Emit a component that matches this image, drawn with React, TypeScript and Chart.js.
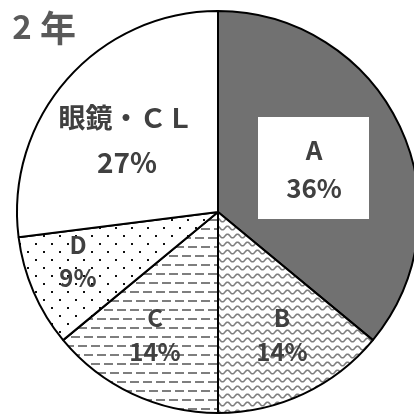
import React, { useEffect, useRef } from "react";
import { Chart, registerables } from "chart.js";

Chart.register(...registerables);

const categories = ["A", "B", "C", "D", "眼鏡・ＣＬ"];
const values = [36, 14, 14, 9, 27];
const percentLabels = ["36%", "14%", "14%", "9%", "27%"];
const title = ["2", "年"];

function makeTile(w: number, h: number, draw: (c: CanvasRenderingContext2D) => void) {
  const cv = document.createElement("canvas");
  cv.width = w;
  cv.height = h;
  const c = cv.getContext("2d")!;
  c.fillStyle = "#ffffff";
  c.fillRect(0, 0, w, h);
  draw(c);
  return c.createPattern(cv, "repeat")!;
}

function wavePattern() {
  return makeTile(10, 8, (c) => {
    c.strokeStyle = "#7e7e7e";
    c.lineWidth = 1.6;
    c.beginPath();
    for (let x = -1; x <= 11; x += 0.5) {
      const y = 4 + 1.8 * Math.sin((2 * Math.PI * x) / 10);
      if (x === -1) c.moveTo(x, y);
      else c.lineTo(x, y);
    }
    c.stroke();
  });
}

function dashPattern() {
  return makeTile(13, 18, (c) => {
    c.fillStyle = "#7e7e7e";
    c.fillRect(0, 3, 9, 2);
    c.fillRect(6, 12, 9, 2);
    c.fillRect(-7, 12, 9, 2);
  });
}

function dotPattern() {
  return makeTile(16, 16, (c) => {
    c.fillStyle = "#111111";
    c.fillRect(3, 3, 2, 2);
    c.fillRect(11, 11, 2, 2);
  });
}

const labelPlugin = {
  id: "labels",
  afterDraw(chart: any) {
    const ctx = chart.ctx as CanvasRenderingContext2D;
    ctx.save();
    ctx.fillStyle = "#ffffff";
    ctx.fillRect(258, 117, 111, 102);
    ctx.textAlign = "center";
    ctx.textBaseline = "middle";
    ctx.fillStyle = "#404040";
    const f = (s: number) => `bold ${s}px "Noto Sans CJK JP", "Noto Sans", sans-serif`;
    const pos = [
      [314, 150, 314, 188, 26, 26],
      [282, 318, 282, 352, 24, 24],
      [155, 318, 155, 352, 24, 24],
      [78, 245, 78, 278, 24, 24],
      [126, 118, 127, 162, 27, 28],
    ];
    categories.forEach((cat, i) => {
      const p = pos[i];
      ctx.font = f(p[4]);
      ctx.fillText(cat, p[0], p[1]);
      ctx.font = f(p[5]);
      ctx.fillText(percentLabels[i], p[2], p[3]);
    });
    ctx.fillStyle = "#595959";
    ctx.font = f(33);
    ctx.fillText(title[0], 22, 26);
    ctx.font = f(36);
    ctx.fillText(title[1], 58, 28);
    ctx.restore();
  },
};

export default function App() {
  const ref = useRef<HTMLCanvasElement>(null);
  useEffect(() => {
    const chart = new Chart(ref.current!, {
      type: "pie",
      data: {
        labels: categories,
        datasets: [
          {
            data: values,
            backgroundColor: ["#717171", wavePattern(), dashPattern(), dotPattern(), "#ffffff"] as any,
            borderColor: "#000000",
            borderWidth: 2,
          },
        ],
      },
      options: {
        responsive: false,
        animation: false,
        layout: { padding: { left: 16, right: 20, top: 10, bottom: 26 } },
        plugins: {
          legend: { display: false },
          tooltip: { enabled: false },
        },
      },
      plugins: [labelPlugin],
    });
    return () => chart.destroy();
  }, []);
  return (
    <div
      style={{
        position: "fixed",
        left: 0,
        top: 0,
        width: 414,
        height: 414,
        overflow: "hidden",
        background: "#ffffff",
      }}
    >
      <canvas ref={ref} width={440} height={440} style={{ position: "absolute", left: 0, top: 0 }} />
    </div>
  );
}
